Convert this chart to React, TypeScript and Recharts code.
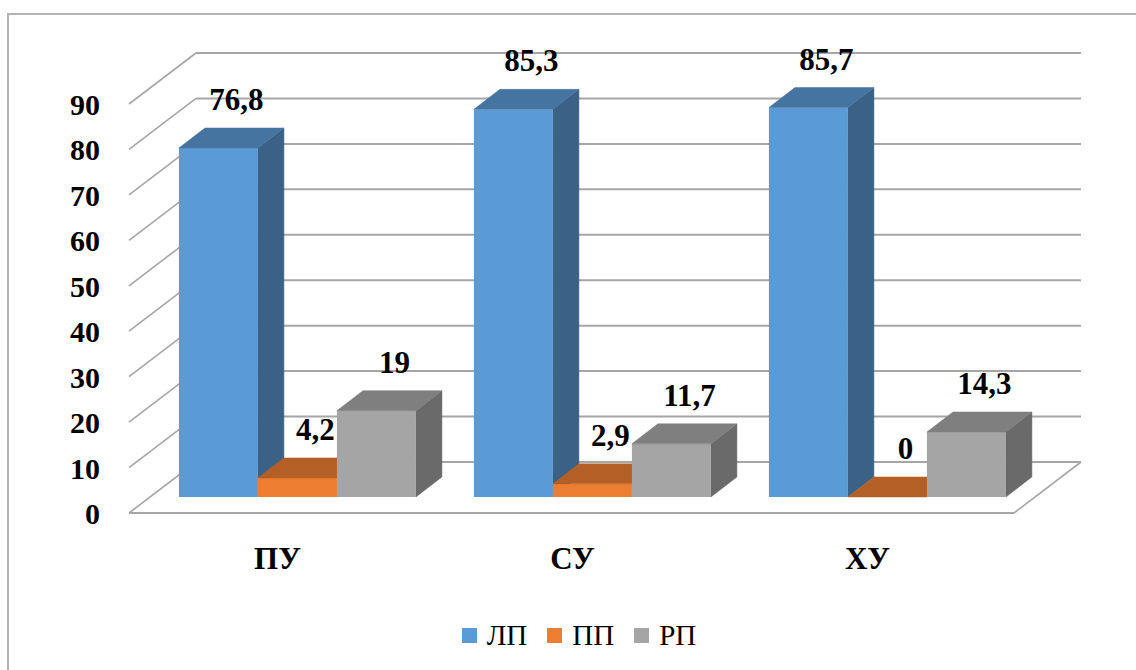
import { BarChart, Bar, XAxis, YAxis, CartesianGrid, Legend, LabelList } from "recharts";

const CATEGORIES = ["ПУ", "СУ", "ХУ"];
const LP = [76.8, 85.3, 85.7];
const PP = [4.2, 2.9, 0];
const RP = [19, 11.7, 14.3];
const Y_TICKS = [0, 10, 20, 30, 40, 50, 60, 70, 80, 90];

const data = CATEGORIES.map((name, i) => ({ name, lp: LP[i], pp: PP[i], rp: RP[i] }));

// face colours: front / top / side
const BLUE = { front: "#5B9BD5", top: "#4674A0", side: "#3A6287" };
const ORANGE = { front: "#ED7D31", top: "#B45F25", side: "#A4561F" };
const GRAY = { front: "#A5A5A5", top: "#7F7F7F", side: "#6A6A6A" };

const W = 1136;
const H = 670;
const X_AXIS_H = 60;
const Y_AXIS_W = 60;
const MARGIN = { top: 88, right: 101, left: 150 - Y_AXIS_W, bottom: 113 };
const PLOT_LEFT = MARGIN.left + Y_AXIS_W;
const PLOT_RIGHT = W - MARGIN.right;
const PLOT_BOTTOM = H - MARGIN.bottom - X_AXIS_H;

// oblique offsets for the fake 3D
const DEPTH = { dx: 26, dy: 20 }; // bar depth
const WALL = { dx: 46, dy: 35 }; // bar front -> back wall
const FRONT = { dx: 21, dy: 16 }; // bar front -> floor front edge

const FONT = "Liberation Serif, Times New Roman, serif";
const GRID = "#A6A6A6";

const textStyle = { fontFamily: FONT, fontWeight: 700 };

function Prism(props: any) {
  const { x, y, width, height, colors } = props;
  const w = width;
  const h = Math.max(height, 0);
  const { dx, dy } = DEPTH;
  const top = `${x},${y} ${x + dx},${y - dy} ${x + w + dx},${y - dy} ${x + w},${y}`;
  const side = `${x + w},${y} ${x + w + dx},${y - dy} ${x + w + dx},${y + h - dy} ${x + w},${y + h}`;
  return (
    <g>
      {h > 0 && <polygon points={side} fill={colors.side} stroke={colors.side} strokeWidth={0.5} />}
      {h > 0 && <rect x={x} y={y} width={w} height={h} fill={colors.front} />}
      <polygon points={top} fill={colors.top} stroke={colors.top} strokeWidth={0.5} />
    </g>
  );
}

function GridLine(p: any) {
  const y = p.y1;
  const by = y - WALL.dy;
  const fy = y + FRONT.dy;
  const backL = PLOT_LEFT + WALL.dx;
  const backR = PLOT_RIGHT + WALL.dx;
  const frontL = PLOT_LEFT - FRONT.dx;
  const frontR = PLOT_RIGHT - FRONT.dx;
  const isFloor = Math.abs(y - PLOT_BOTTOM) < 0.5;
  return (
    <g key={`grid-${p.index}-${y}`}>
      <line x1={backL} y1={by} x2={backR} y2={by} stroke={GRID} strokeWidth={2} />
      <line x1={backL} y1={by} x2={frontL} y2={fy} stroke={GRID} strokeWidth={1.6} />
      {isFloor && (
        <>
          <line x1={frontL} y1={fy} x2={frontR} y2={fy} stroke={GRID} strokeWidth={2} />
          <line x1={frontR} y1={fy} x2={backR} y2={by} stroke={GRID} strokeWidth={1.6} />
        </>
      )}
    </g>
  );
}

function YTick({ y, payload }: any) {
  return (
    <text x={PLOT_LEFT - 50} y={y + FRONT.dy + 11} textAnchor="end" style={{ ...textStyle, fontSize: 30 }} fill="#000">
      {payload.value}
    </text>
  );
}

function XTick({ x, payload }: any) {
  return (
    <text x={x - 20} y={PLOT_BOTTOM + 72} textAnchor="middle" style={{ ...textStyle, fontSize: 31 }} fill="#000">
      {payload.value}
    </text>
  );
}

function ValueLabel(props: any) {
  const { x, y, width, value } = props;
  return (
    <text x={x + width / 2 + 18} y={y - DEPTH.dy - 18} textAnchor="middle" style={{ ...textStyle, fontSize: 31 }} fill="#000">
      {String(value).replace(".", ",")}
    </text>
  );
}

function LegendContent({ payload }: any) {
  return (
    <div style={{ display: "flex", justifyContent: "center", gap: 20, fontFamily: FONT, fontSize: 29, color: "#000" }}>
      {(payload || []).map((e: any) => (
        <div key={e.value} style={{ display: "flex", alignItems: "center", gap: 10 }}>
          <span style={{ width: 15, height: 15, background: e.color, display: "inline-block" }} />
          <span>{e.value}</span>
        </div>
      ))}
    </div>
  );
}

export default function App() {
  return (
    <div style={{ position: "absolute", left: 0, top: 0, width: W, height: H, overflow: "hidden", background: "#fff" }}>
      <div
        style={{
          position: "absolute",
          left: 7,
          top: 13,
          width: W + 20,
          height: H + 20,
          borderLeft: "2px solid #B3B3B3",
          borderTop: "2px solid #B3B3B3",
        }}
      />
      <div style={{ position: "absolute", left: 0, top: 0 }}>
        <BarChart width={W} height={H} data={data} margin={MARGIN} barGap={0} barCategoryGap="9.8%">
          <CartesianGrid vertical={false} horizontal={(p: any) => <GridLine {...p} />} />
          <XAxis dataKey="name" height={X_AXIS_H} axisLine={false} tickLine={false} tick={<XTick />} />
          <YAxis width={Y_AXIS_W} domain={[0, 90]} ticks={Y_TICKS} interval={0} axisLine={false} tickLine={false} tick={<YTick />} />
          <Legend
            verticalAlign="middle"
            content={<LegendContent />}
            wrapperStyle={{ top: 619, left: 11, width: W }}
          />
          <Bar dataKey="lp" name="ЛП" fill={BLUE.front} isAnimationActive={false} shape={(p: any) => <Prism {...p} colors={BLUE} />}>
            <LabelList dataKey="lp" content={<ValueLabel />} />
          </Bar>
          <Bar dataKey="pp" name="ПП" fill={ORANGE.front} isAnimationActive={false} shape={(p: any) => <Prism {...p} colors={ORANGE} />}>
            <LabelList dataKey="pp" content={<ValueLabel />} />
          </Bar>
          <Bar dataKey="rp" name="РП" fill={GRAY.front} isAnimationActive={false} shape={(p: any) => <Prism {...p} colors={GRAY} />}>
            <LabelList dataKey="rp" content={<ValueLabel />} />
          </Bar>
        </BarChart>
      </div>
    </div>
  );
}
